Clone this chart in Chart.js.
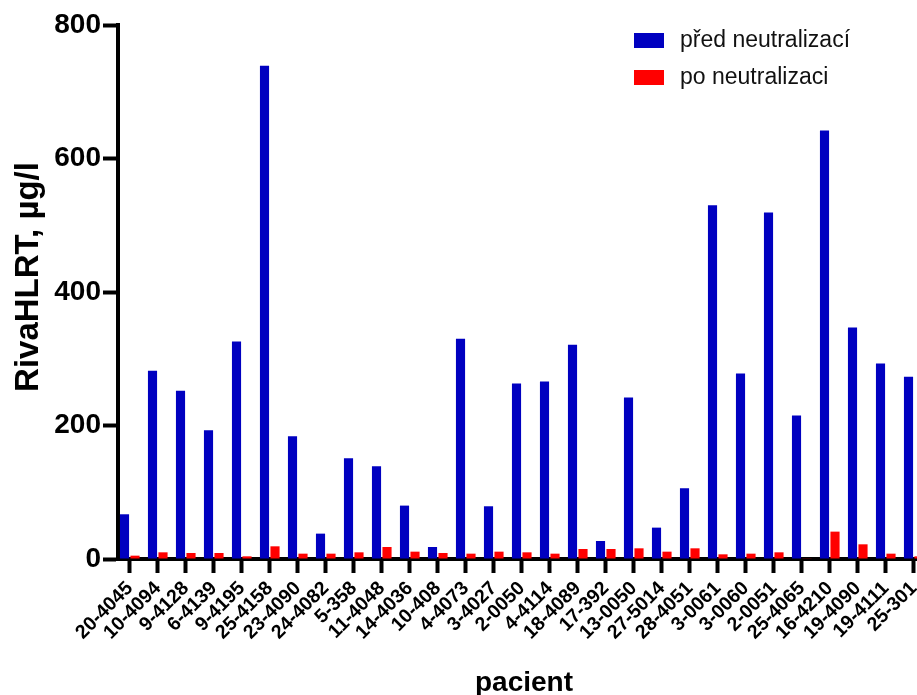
<!DOCTYPE html>
<html>
<head>
<meta charset="utf-8">
<script src="https://cdn.jsdelivr.net/npm/chart.js@4.4.0/dist/chart.umd.min.js"></script>
<style>
  html, body { margin: 0; padding: 0; background: #fff; overflow: hidden; }
  #wrap { width: 917px; height: 695px; overflow: hidden; }
</style>
</head>
<body>
<div id="wrap"><canvas id="chart" width="930" height="695"></canvas></div>
<script>
// patient codes along the x axis
const patients = ['20-4045', '10-4094', '9-4128', '6-4139', '9-4195', '25-4158', '23-4090', '24-4082',
    '5-358', '11-4048', '14-4036', '10-408', '4-4073', '3-4027', '2-0050', '4-4114', '18-4089', '17-392',
    '13-0050', '27-5014', '28-4051', '3-0061', '3-0060', '2-0051', '25-4065', '16-4210', '19-4090',
    '19-4111', '25-301'];

// RivaHLRT, µg/l
const beforeValues = [67, 282, 252, 193, 326, 739, 184, 38, 151, 139, 80, 18, 330, 79, 263, 266, 321,
    27, 242, 47, 106, 530, 278, 519, 215, 642, 347, 293, 273];
const afterValues = [5, 10, 9, 9, 4, 19, 8, 8, 10, 18, 11, 9, 8, 11, 10, 8, 15, 15, 16, 11, 16, 7, 8,
    10, 1, 41, 22, 8, 4];

const yTicks = [0, 200, 400, 600, 800];
const seriesNames = ['před neutralizací', 'po neutralizaci'];
const yTitle = 'RivaHLRT, µg/l';

const FONT = '"Liberation Sans", Arial, Helvetica, sans-serif';

// legend in the upper right corner and the y title, like the original graph
const extrasPlugin = {
    id: 'extras',
    afterDraw(chart) {
        const ctx = chart.ctx;
        ctx.save();
        ctx.font = '23px ' + FONT;
        ctx.textBaseline = 'middle';
        ctx.textAlign = 'left';
        chart.data.datasets.forEach((ds, i) => {
            const y = 41 + i * 37;
            ctx.fillStyle = ds.backgroundColor;
            ctx.fillRect(634, y - 8, 30, 15);
            ctx.fillStyle = '#111';
            ctx.fillText(ds.label, 680, y);
        });

        // y axis title
        ctx.translate(38, 277);
        ctx.rotate(-Math.PI / 2);
        ctx.font = 'bold 33px ' + FONT;
        ctx.textAlign = 'center';
        ctx.textBaseline = 'alphabetic';
        ctx.fillStyle = '#000';
        ctx.fillText(yTitle, 0, 0);
        ctx.restore();
    }
};

const ctx = document.getElementById('chart').getContext('2d');
new Chart(ctx, {
    type: 'bar',
    data: {
        datasets: [{
            label: seriesNames[0],
            data: beforeValues.map((v, i) => ({ x: i, y: v })),
            backgroundColor: '#0000c0',
            borderWidth: 0
        }, {
            label: seriesNames[1],
            data: afterValues.map((v, i) => ({ x: i, y: v })),
            backgroundColor: '#ff0000',
            borderWidth: 0
        }]
    },
    options: {
        responsive: false,
        animation: false,
        devicePixelRatio: 1,
        categoryPercentage: 0.75,
        barPercentage: 0.87,
        layout: { padding: { top: 25, right: 0, bottom: 0, left: 0 } },
        plugins: {
            legend: { display: false },
            tooltip: { enabled: false }
        },
        scales: {
            x: {
                type: 'linear',
                offset: false,
                min: -0.42,
                max: 28.58,
                afterFit: s => { s.height = 136; s.paddingLeft = 0; s.paddingRight = 0; },
                afterBuildTicks: s => { s.ticks = patients.map((p, i) => ({ value: i })); },
                ticks: {
                    autoSkip: false,
                    minRotation: 45,
                    maxRotation: 45,
                    padding: 4,
                    color: '#000',
                    font: { family: FONT, size: 19.5, weight: 'bold' },
                    callback: (v, i) => patients[i]
                },
                grid: {
                    offset: false,
                    drawOnChartArea: false,
                    tickLength: 14,
                    tickWidth: 4,
                    tickColor: '#000'
                },
                border: { color: '#000', width: 4 },
                title: {
                    display: true,
                    text: 'pacient',
                    color: '#000',
                    font: { family: FONT, size: 28, weight: 'bold' },
                    padding: { top: 0, bottom: -5 }
                }
            },
            y: {
                min: 0,
                max: 800,
                afterFit: s => { s.width = 118; },
                afterBuildTicks: s => { s.ticks = yTicks.map(v => ({ value: v })); },
                ticks: {
                    padding: 2,
                    color: '#000',
                    font: { family: FONT, size: 28, weight: 'bold' }
                },
                grid: {
                    drawOnChartArea: false,
                    tickLength: 15,
                    tickWidth: 4,
                    tickColor: '#000'
                },
                border: { color: '#000', width: 4 }
            }
        }
    },
    plugins: [extrasPlugin]
});
</script>
</body>
</html>
